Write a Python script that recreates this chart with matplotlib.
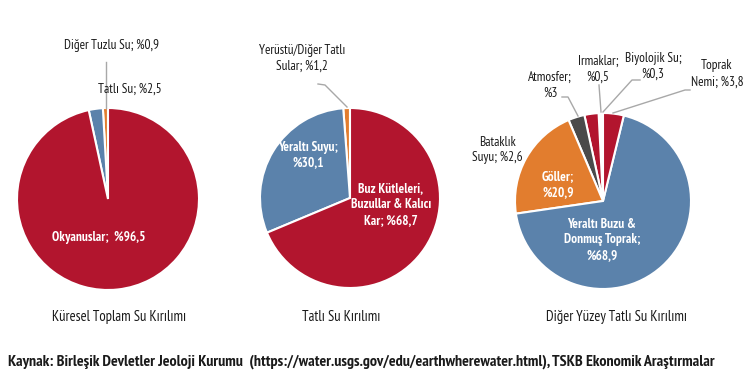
import matplotlib.pyplot as plt

plt.rcParams['font.family'] = ['PT Sans Narrow', 'Asap Condensed', 'Liberation Sans Narrow', 'DejaVu Sans']

# kuresel toplam su
total_labels = ["Diğer Tuzlu Su", "Tatlı Su", "Okyanuslar"]
total_values = [0.9, 2.5, 96.5]

# tatli su
fresh_labels = ["Yerüstü/Diğer Tatlı Sular", "Yeraltı Suyu", "Buz Kütleleri, Buzullar & Kalıcı Kar"]
fresh_values = [1.2, 30.1, 68.7]

# diger yuzey tatli su
other_labels = ["Biyolojik Su", "Irmaklar", "Bataklık Suyu", "Atmosfer", "Göller",
                "Yeraltı Buzu & Donmuş Toprak", "Toprak Nemi"]
other_values = [0.3, 0.5, 2.6, 3.0, 20.9, 68.9, 3.8]

RED = "#B2152E"
BLUE = "#5B82AB"
ORANGE = "#E27D2E"
GRAY = "#4A4A4A"
LINE = "#A8A8A8"
TXT = "#1A1A1A"

fig = plt.figure(figsize=(7.5, 3.79), dpi=100)
ax = fig.add_axes([0, 0, 1, 1])

wp = dict(edgecolor="white", linewidth=1.5)

# pie 1
ax.pie(total_values, colors=[ORANGE, BLUE, RED], startangle=90, counterclock=True,
       center=(108, 180), radius=91, wedgeprops=wp, frame=True)
# pie 2
ax.pie(fresh_values, colors=[ORANGE, BLUE, RED], startangle=90, counterclock=True,
       center=(350, 181), radius=90, wedgeprops=wp, frame=True)
# pie 3
ax.pie(other_values, colors=["white", "white", RED, GRAY, ORANGE, BLUE, RED],
       startangle=90, counterclock=True, center=(603, 178), radius=88,
       wedgeprops=wp, frame=True)
ax.set_xlim(0, 750)
ax.set_ylim(0, 379)
ax.set_aspect("auto")
ax.axis("off")

def fmt(v):
    s = ("%.1f" % v).replace(".", ",")
    if s.endswith(",0"):
        s = s[:-2]
    return "%" + s

fs = 9.5
fsb = 9.5
ls = 1.3
# pie 1 labels
ax.text(112, 334, "%s; %s" % (total_labels[0], fmt(total_values[0])), ha="center", va="center", fontsize=fs, color=TXT)
ax.plot([106, 106], [317, 271], color=LINE, lw=1)
ax.text(130, 290, "%s; %s" % (total_labels[1], fmt(total_values[1])), ha="center", va="center", fontsize=fs, color=TXT)
ax.text(99, 141, "%s;  %s" % (total_labels[2], fmt(total_values[2])), ha="center", va="center", fontsize=fsb, color="white", fontweight="bold")
ax.text(119, 62, "Küresel Toplam Su Kırılımı", ha="center", va="center", fontsize=10.5, color=TXT)

# pie 2 labels
ax.text(302, 321, "Yerüstü/Diğer Tatlı\nSular; %s" % fmt(fresh_values[0]), ha="center", va="center",
        fontsize=fs, color=TXT, linespacing=ls)
ax.plot([318, 325, 347], [295, 294, 272], color=LINE, lw=1)
ax.text(308, 224, "Yeraltı Suyu;\n%s" % fmt(fresh_values[1]), ha="center", va="center",
        fontsize=fsb, color="white", fontweight="bold", linespacing=ls)
ax.text(391, 174, "Buz Kütleleri,\nBuzullar & Kalıcı\nKar; %s" % fmt(fresh_values[2]), ha="center", va="center",
        fontsize=fsb, color="white", fontweight="bold", linespacing=ls)
ax.text(341, 62, "Tatlı Su Kırılımı", ha="center", va="center", fontsize=10.5, color=TXT)

# pie 3 labels
ax.text(497, 229, "Bataklık\nSuyu; %s" % fmt(other_values[2]), ha="center", va="center",
        fontsize=fs, color=TXT, linespacing=ls)
ax.text(550, 294, "Atmosfer;\n%s" % fmt(other_values[3]), ha="center", va="center",
        fontsize=fs, color=TXT, linespacing=ls)
ax.plot([562, 568, 578], [282, 282, 263], color=LINE, lw=1)
ax.text(598, 310, "Irmaklar;\n%s" % fmt(other_values[1]), ha="center", va="center",
        fontsize=fs, color=TXT, linespacing=ls)
ax.plot([599, 601], [294, 267], color=LINE, lw=1)
ax.text(653, 313, "Biyolojik Su;\n%s" % fmt(other_values[0]), ha="center", va="center",
        fontsize=fs, color=TXT, linespacing=ls)
ax.plot([640, 632, 603], [299, 299, 267], color=LINE, lw=1)
ax.text(717, 305, "Toprak\nNemi; %s" % fmt(other_values[6]), ha="center", va="center",
        fontsize=fs, color=TXT, linespacing=ls)
ax.plot([690, 685, 613], [289, 289, 266], color=LINE, lw=1)
ax.text(558, 194, "Göller;\n%s" % fmt(other_values[4]), ha="center", va="center",
        fontsize=fsb, color="white", fontweight="bold", linespacing=ls)
ax.text(602, 139, "Yeraltı Buzu &\nDonmuş Toprak;\n%s" % fmt(other_values[5]), ha="center", va="center",
        fontsize=fsb, color="white", fontweight="bold", linespacing=ls)
ax.text(616, 62, "Diğer Yüzey Tatlı Su Kırılımı", ha="center", va="center", fontsize=10.5, color=TXT)

# kaynak
ax.text(8, 17, "Kaynak: Birleşik Devletler Jeoloji Kurumu  (https://water.usgs.gov/edu/earthwherewater.html), TSKB Ekonomik Araştırmalar",
        ha="left", va="center", fontsize=11.5, color=TXT, fontweight="bold")

fig.savefig("out.png", dpi=100)
